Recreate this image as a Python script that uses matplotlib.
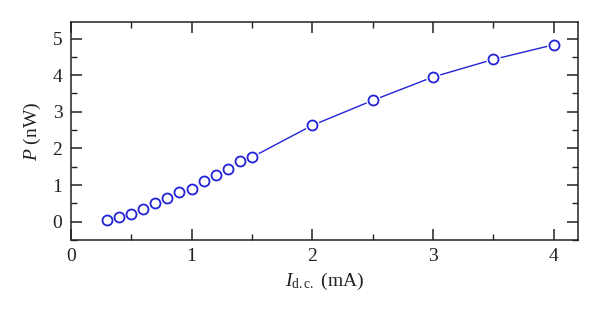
import numpy as np
import matplotlib
matplotlib.use('Agg')
import matplotlib.pyplot as plt
from matplotlib.ticker import MultipleLocator

# data
current = [0.3, 0.4, 0.5, 0.6, 0.7, 0.8, 0.9, 1.0, 1.1, 1.2, 1.3, 1.4, 1.5,
           2.0, 2.5, 3.0, 3.5, 4.0]
power = [0.05, 0.12, 0.22, 0.35, 0.50, 0.66, 0.80, 0.90, 1.12, 1.28, 1.45, 1.67, 1.76,
         2.63, 3.31, 3.95, 4.43, 4.83]
xticks = [0, 1, 2, 3, 4]
yticks = [0, 1, 2, 3, 4, 5]

plt.rcParams['font.family'] = ['Liberation Serif', 'DejaVu Serif']
plt.rcParams['mathtext.fontset'] = 'custom'
plt.rcParams['mathtext.rm'] = 'Liberation Serif'
plt.rcParams['mathtext.it'] = 'Liberation Serif:italic'

blue = '#2222d8'
fig = plt.figure(figsize=(6, 3.2), dpi=100)
ax = fig.add_axes([0.118, 0.25, 0.845, 0.681])

ax.plot(current, power, color=blue, lw=1.0, zorder=2)
# white halo so the line stops short of each marker
ax.plot(current, power, ls='none', marker='o', markersize=9.5,
        markerfacecolor='white', markeredgecolor='white', zorder=3)
ax.plot(current, power, ls='none', marker='o', markersize=7.2,
        markerfacecolor='white', markeredgecolor=blue, markeredgewidth=1.3, zorder=4)

ax.set_xlim(0, 4.2)
ax.set_ylim(-0.5, 5.45)
ax.set_xticks(xticks)
ax.set_yticks(yticks)
ax.xaxis.set_minor_locator(MultipleLocator(0.5))
ax.yaxis.set_minor_locator(MultipleLocator(0.5))
ax.tick_params(which='both', direction='in', top=True, right=True, labelsize=14,
               color='#222222', labelcolor='#222222')
ax.tick_params(which='major', length=8, width=1.1, pad=6)
ax.tick_params(which='minor', length=4.5, width=1.0)
for s in ax.spines.values():
    s.set_linewidth(1.1)
    s.set_color('#222222')

ax.set_xlabel(r'$I_{\mathrm{d.c.}}$ (mA)', fontsize=14, color='#222222', labelpad=4)
ax.set_ylabel(r'$P$ (nW)', fontsize=14, color='#222222', labelpad=7)

fig.savefig('out.png', dpi=100)
